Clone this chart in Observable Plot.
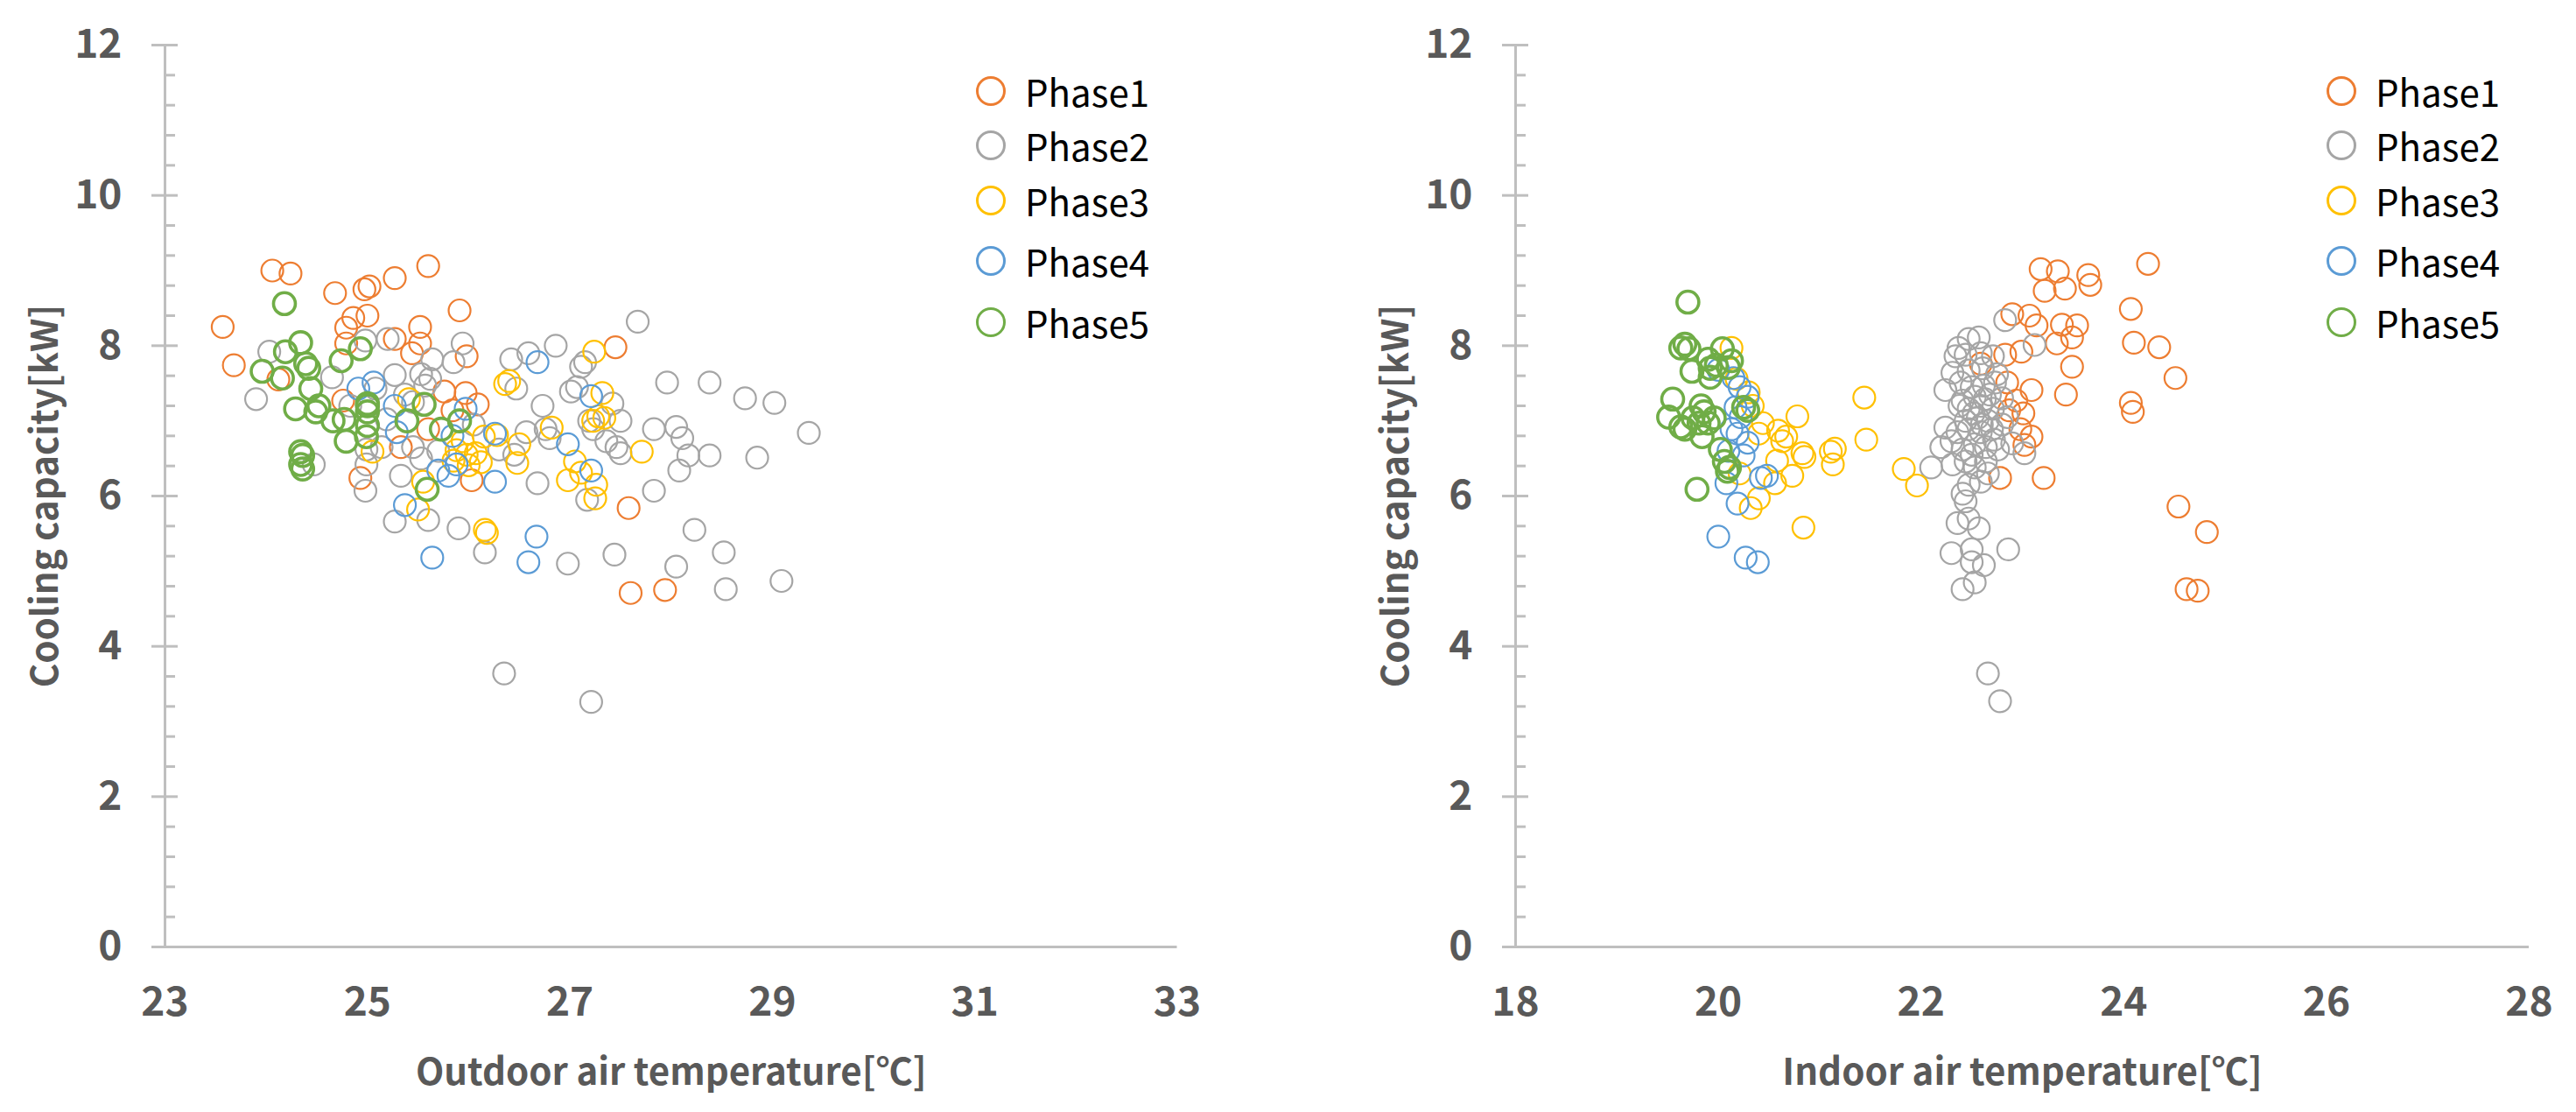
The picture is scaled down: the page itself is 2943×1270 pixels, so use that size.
<!DOCTYPE html>
<html><head><meta charset="utf-8">
<script src="https://cdn.jsdelivr.net/npm/d3@7"></script>
<script src="https://cdn.jsdelivr.net/npm/@observablehq/plot@0.6"></script>
<style>
html,body{margin:0;padding:0;background:#fff;}
#root{position:relative;width:2943px;height:1270px;overflow:hidden;font-family:"Noto Sans CJK KR","Noto Sans",sans-serif;}
.panel{position:absolute;top:0;}
.item{position:absolute;display:flex;align-items:center;height:40px;}
.sw{box-sizing:border-box;width:34px;height:34px;border-radius:50%;border-style:solid;border-width:3px;}
.lab{font-size:42px;color:#000;margin-left:22px;line-height:40px;white-space:nowrap;}
</style></head><body><div id="root"></div><script>
// ---------- data ----------
const phaseNames = ["Phase1","Phase2","Phase3","Phase4","Phase5"];
const phaseColors = ["#ED7D31","#A5A5A5","#FFC000","#5B9BD5","#70AD47"];
const yTicks = [0,2,4,6,8,10,12];
const outdoorTicks = [23,25,27,29,31,33];
const indoorTicks = [18,20,22,24,26,28];

// Outdoor air temperature [°C] vs cooling capacity [kW]
const outdoorP1 = [[23.57,8.25],[23.68,7.74],[24.06,9.00],[24.24,8.96],[24.12,7.55],[24.68,8.70],[24.97,8.75],[25.02,8.79],[25.27,8.90],[25.60,9.06],[24.79,8.24],[24.86,8.37],[25.00,8.40],[24.79,8.03],[25.27,8.09],[25.52,8.25],[25.52,8.03],[25.44,7.90],[25.91,8.47],[25.98,7.86],[25.76,7.39],[25.97,7.37],[26.09,7.22],[25.84,7.14],[24.76,7.27],[25.60,6.89],[25.33,6.65],[24.93,6.24],[26.03,6.21],[27.45,7.98],[27.58,5.84],[27.60,4.71],[27.94,4.75]];
const outdoorP2 = [[23.90,7.29],[24.03,7.92],[24.47,6.42],[24.65,7.58],[24.98,8.07],[25.20,8.09],[25.27,7.61],[25.08,7.43],[24.83,7.20],[24.98,6.07],[24.99,6.42],[25.27,5.66],[25.53,7.62],[25.64,7.82],[25.57,7.47],[25.85,7.78],[25.94,8.03],[25.45,6.65],[25.60,5.68],[25.90,5.57],[26.16,5.25],[26.35,3.64],[26.42,7.82],[26.59,7.90],[26.86,8.00],[26.73,7.20],[26.47,7.43],[26.68,6.17],[27.15,7.78],[27.11,7.72],[27.01,7.39],[27.07,7.45],[27.42,7.23],[27.50,7.00],[27.36,6.73],[27.46,6.65],[27.23,6.89],[27.19,7.00],[27.50,6.57],[27.17,5.95],[27.83,6.89],[27.96,7.51],[28.38,7.51],[28.05,6.92],[28.11,6.77],[28.17,6.54],[28.38,6.54],[28.08,6.34],[27.83,6.07],[28.23,5.55],[28.52,5.25],[28.05,5.06],[28.54,4.76],[27.44,5.22],[26.98,5.10],[25.33,6.27],[26.30,6.62],[26.57,6.85],[26.76,6.89],[26.80,6.77],[27.67,8.32],[25.53,6.50],[24.99,6.62],[25.14,6.65],[25.37,7.35],[28.73,7.30],[29.02,7.24],[29.36,6.84],[28.85,6.51],[29.09,4.87],[27.21,3.26],[25.19,7.02],[25.62,7.56],[25.45,7.25],[26.05,6.95],[25.70,6.60],[26.45,6.55]];
const outdoorP3 = [[27.24,7.92],[26.40,7.53],[26.36,7.49],[27.32,7.37],[27.23,7.00],[27.28,7.06],[27.34,7.04],[27.71,6.59],[26.82,6.91],[26.50,6.69],[26.48,6.44],[27.05,6.46],[26.98,6.21],[27.26,6.15],[27.25,5.97],[26.16,5.55],[26.18,5.51],[25.50,5.82],[25.55,6.19],[25.41,7.29],[25.05,6.59],[25.88,6.61],[25.98,6.55],[26.07,6.57],[26.15,6.79],[26.28,6.81],[26.12,6.45],[26.00,6.41],[25.85,6.47],[25.94,6.73],[27.11,6.31]];
const outdoorP4 = [[24.91,7.43],[25.06,7.51],[25.27,7.20],[25.29,6.85],[25.37,5.88],[25.64,5.18],[25.70,6.34],[25.80,6.27],[25.88,6.42],[25.97,7.16],[26.26,6.19],[26.26,6.83],[26.68,7.78],[26.98,6.69],[27.21,7.33],[27.21,6.34],[26.67,5.46],[26.59,5.12],[25.84,6.80]];
const outdoorP5 = [[24.18,8.56],[23.96,7.66],[24.19,7.92],[24.34,8.04],[24.16,7.57],[24.39,7.76],[24.42,7.70],[24.44,7.43],[24.29,7.16],[24.52,7.20],[24.49,7.12],[24.66,7.00],[24.77,7.02],[24.34,6.59],[24.36,6.54],[24.34,6.42],[24.36,6.36],[24.79,6.73],[24.74,7.80],[24.93,7.96],[25.00,7.20],[25.00,7.12],[25.00,7.23],[25.00,6.94],[24.99,6.79],[25.39,7.00],[25.56,7.22],[25.73,6.89],[25.91,7.00],[25.59,6.09]];

// Indoor air temperature [°C] vs cooling capacity [kW]
const indoorP1 = [[23.18,9.02],[23.35,8.99],[23.65,8.94],[23.67,8.81],[23.22,8.73],[23.42,8.76],[24.24,9.09],[24.07,8.49],[24.10,8.04],[24.35,7.98],[24.51,7.57],[24.07,7.24],[24.09,7.12],[24.54,5.86],[24.82,5.52],[24.62,4.76],[24.73,4.74],[22.90,8.42],[23.07,8.40],[23.14,8.27],[23.39,8.28],[23.54,8.27],[23.34,8.03],[23.49,8.11],[23.49,7.72],[23.43,7.35],[22.83,7.88],[22.99,7.92],[22.59,7.76],[22.85,7.51],[23.09,7.41],[22.87,7.14],[23.01,7.10],[22.94,7.27],[22.98,6.89],[23.09,6.79],[23.02,6.68],[22.78,6.24],[23.21,6.24]];
const indoorP2 = [[22.83,8.34],[22.47,8.09],[22.57,8.11],[22.37,7.97],[22.59,7.90],[22.71,7.86],[22.34,7.86],[22.44,7.88],[22.31,7.64],[22.47,7.67],[22.61,7.70],[22.75,7.62],[22.24,7.41],[22.39,7.51],[22.50,7.45],[22.62,7.47],[22.73,7.51],[22.41,7.27],[22.53,7.32],[22.63,7.29],[22.38,7.20],[22.47,7.16],[22.59,7.20],[22.71,7.16],[22.44,7.00],[22.56,7.04],[22.66,7.00],[22.24,6.91],[22.36,6.85],[22.47,6.89],[22.59,6.85],[22.70,6.89],[22.20,6.65],[22.30,6.73],[22.41,6.62],[22.53,6.69],[22.64,6.65],[22.76,6.62],[22.10,6.38],[22.31,6.42],[22.44,6.46],[22.53,6.38],[22.64,6.46],[22.47,6.15],[22.59,6.19],[22.41,6.03],[22.44,5.93],[22.36,5.64],[22.47,5.70],[22.57,5.57],[22.30,5.24],[22.50,5.29],[22.62,5.08],[22.50,5.12],[22.86,5.29],[22.41,4.76],[22.53,4.85],[22.66,3.64],[22.78,3.27],[23.12,8.01],[23.02,6.57],[22.52,7.10],[22.60,6.95],[22.68,7.35],[22.50,6.55],[22.80,6.95],[22.85,7.05],[22.90,6.70],[22.80,7.30],[22.66,6.30],[22.72,6.75]];
const indoorP3 = [[20.13,7.97],[20.18,7.56],[20.30,7.38],[21.44,7.31],[21.46,6.75],[20.78,7.06],[20.44,6.97],[20.59,6.87],[20.40,6.83],[20.67,6.79],[20.83,6.57],[20.85,6.52],[21.15,6.63],[21.11,6.59],[21.13,6.42],[20.58,6.47],[20.73,6.27],[20.56,6.17],[20.40,5.97],[20.32,5.84],[20.84,5.58],[21.83,6.36],[21.96,6.14],[20.21,6.30],[20.34,7.20],[20.63,6.73]];
const indoorP4 = [[19.90,7.82],[20.15,7.57],[20.21,7.45],[20.29,7.32],[20.17,7.18],[20.13,6.89],[20.19,6.83],[20.29,6.71],[20.42,6.24],[20.48,6.27],[20.08,6.17],[20.19,5.90],[20.00,5.46],[20.27,5.18],[20.39,5.12],[20.25,6.54],[20.00,7.68],[20.22,7.05],[20.10,6.60]];
const indoorP5 = [[19.70,8.58],[19.67,8.02],[19.71,7.96],[19.63,7.97],[20.04,7.96],[20.13,7.80],[19.74,7.66],[19.90,7.82],[19.92,7.70],[19.98,7.74],[19.92,7.58],[19.55,7.29],[19.51,7.05],[19.63,6.92],[19.67,6.89],[19.83,7.20],[19.86,7.12],[19.81,6.97],[19.90,6.97],[19.96,7.04],[19.75,7.04],[19.84,6.79],[20.02,6.62],[20.06,6.46],[20.11,6.38],[20.25,7.18],[20.29,7.14],[19.79,6.09],[20.09,6.33],[20.10,7.71]];

// ---------- layout / style ----------
const FONT = '"Noto Sans CJK KR","Noto Sans",sans-serif';
const AXIS = "#BFBFBF", TXT = "#595959";
const H = 1270, MT = 51, MB = 189;
const legendRows = [104,166,229,298,368];

function chart({series, ticks, title, width, marginLeft, marginRight}) {
  const dom = [ticks[0], ticks[ticks.length-1]];
  const minor = d3.range(0, 12.0001, 0.4).map(v => +v.toFixed(1)).filter(v => !yTicks.includes(v));
  const marks = [
    Plot.ruleX([dom[0]], {stroke: AXIS, strokeWidth: 3}),
    Plot.ruleY([0], {stroke: AXIS, strokeWidth: 3}),
    Plot.axisY({ticks: yTicks, tickSize: 30, dx: 15, tickFormat: () => "", color: AXIS, strokeWidth: 3, label: null}),
    Plot.axisY({ticks: minor, tickSize: 12, dx: 12, tickFormat: () => "", color: AXIS, strokeWidth: 3, label: null}),
    Plot.axisY({ticks: yTicks, tickSize: 0, tickPadding: 49, color: TXT, fontSize: 46, fontWeight: "bold", label: null}),
    Plot.axisX({ticks, tickSize: 0, tickPadding: 46, color: TXT, fontSize: 46, fontWeight: "bold", label: null}),
    Plot.text([title], {frameAnchor: "bottom", dy: 144, lineAnchor: "middle", textAnchor: "middle", fill: TXT, fontSize: 42, fontWeight: "bold"}),
    Plot.text(["Cooling capacity[kW]"], {frameAnchor: "left", dx: -136, rotate: -90, lineAnchor: "middle", textAnchor: "middle", fill: TXT, fontSize: 42, fontWeight: "bold"})
  ];
  series.forEach((s, i) => {
    marks.push(Plot.dot(s, {x: d => d[0], y: d => d[1], r: 12.5, fill: "none",
      stroke: phaseColors[i], strokeWidth: i === 4 ? 3.6 : 2.2}));
  });
  return Plot.plot({
    width, height: H, marginLeft, marginRight, marginTop: MT, marginBottom: MB,
    x: {domain: dom}, y: {domain: [0, 12]},
    style: {fontFamily: FONT, background: "white", overflow: "visible"},
    marks
  });
}

function panel(left, width, opts) {
  const div = document.createElement("div");
  div.className = "panel";
  div.style.left = left + "px";
  div.style.width = width + "px";
  div.style.height = H + "px";
  div.appendChild(chart({...opts, width}));
  // legend
  const cx = opts.marginLeft + 944;
  phaseNames.forEach((name, i) => {
    const it = document.createElement("div");
    it.className = "item";
    it.style.left = (cx - 17) + "px";
    it.style.top = (legendRows[i] - 20) + "px";
    const sw = document.createElement("div");
    sw.className = "sw";
    sw.style.borderColor = phaseColors[i];
    const lab = document.createElement("span");
    lab.className = "lab";
    lab.textContent = name;
    it.appendChild(sw); it.appendChild(lab);
    div.appendChild(it);
  });
  document.getElementById("root").appendChild(div);
}

panel(0, 1470, {series: [outdoorP1,outdoorP2,outdoorP3,outdoorP4,outdoorP5], ticks: outdoorTicks,
  title: "Outdoor air temperature[℃]", marginLeft: 188, marginRight: 125.5});
panel(1470, 1473, {series: [indoorP1,indoorP2,indoorP3,indoorP4,indoorP5], ticks: indoorTicks,
  title: "Indoor air temperature[℃]", marginLeft: 261, marginRight: 54});
</script></body></html>
